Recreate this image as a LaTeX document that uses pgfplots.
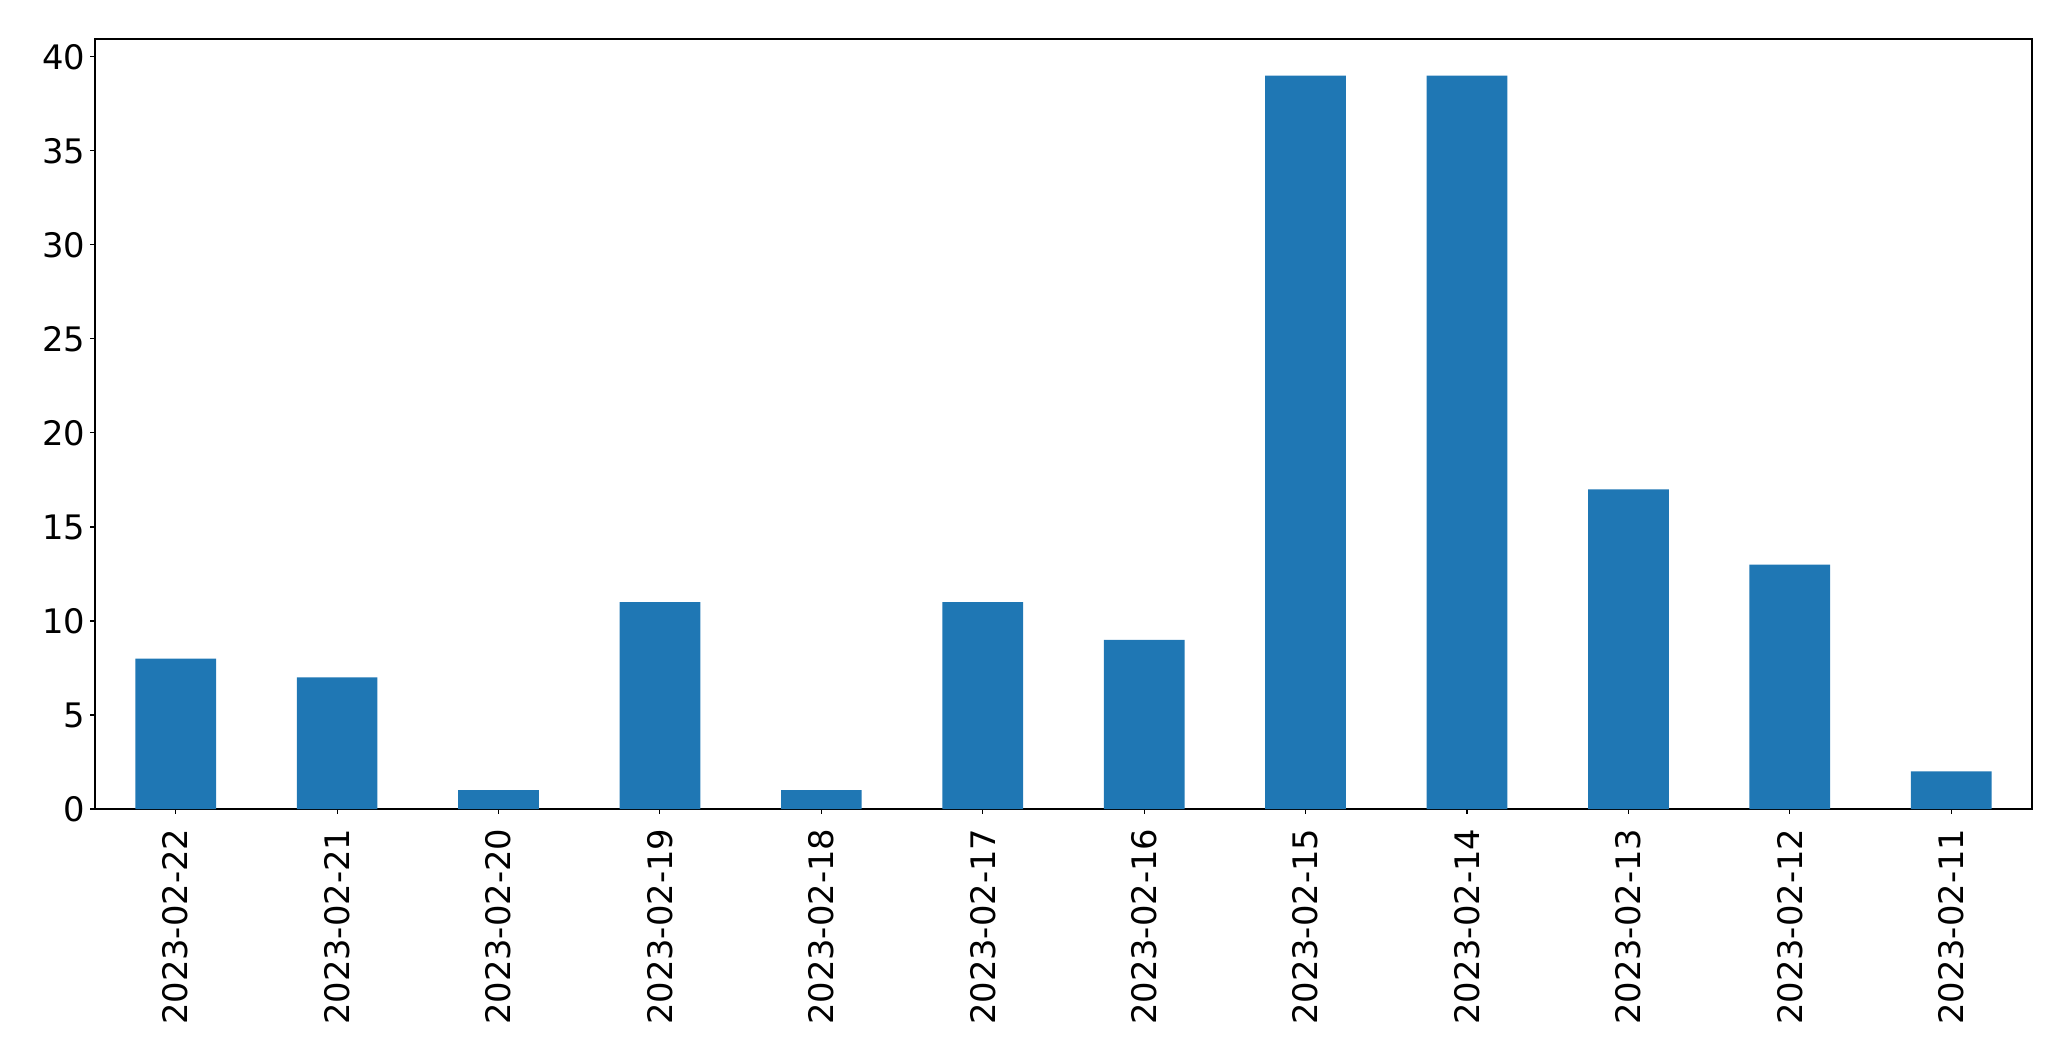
\documentclass[border=0pt]{standalone}
\usepackage{fontspec}
\setmainfont{DejaVu Sans}
\usepackage{pgfplots}
\pgfplotsset{compat=1.18}
\definecolor{mplblue}{HTML}{1F77B4}
\begin{document}
\fontsize{24}{28.8}\selectfont
\begin{tikzpicture}
\useasboundingbox (-68.4pt,-181.44pt) rectangle (1422.72pt,582.48pt);
\begin{axis}[
  at={(0pt,0pt)}, anchor=south west,
  width=1394.6pt, height=554.4pt,
  scale only axis,
  xmin=-0.5, xmax=11.5,
  ymin=0, ymax=40.95,
  xtick={0,...,11},
  xticklabels={2023-02-22,2023-02-21,2023-02-20,2023-02-19,2023-02-18,2023-02-17,2023-02-16,2023-02-15,2023-02-14,2023-02-13,2023-02-12,2023-02-11},
  ytick={0,5,10,15,20,25,30,35,40},
  tick pos=left,
  tick align=outside,
  major tick length=3.5pt,
  every tick/.style={black, line width=0.8pt},
  axis line style={line width=0.8pt},
  /pgf/number format/assume math mode=true,
  ticklabel style={font=\fontsize{24.3}{29}\selectfont},
  yticklabel style={inner sep=0pt, xshift=-3.5pt},
  xticklabel style={rotate=90, anchor=east, inner sep=0pt, yshift=0pt, xshift=-10.5pt},
  ybar,
  bar width=0.5,
]
\addplot[fill=mplblue, draw=none] coordinates {
(0,8) (1,7) (2,1) (3,11) (4,1) (5,11) (6,9) (7,39) (8,39) (9,17) (10,13) (11,2)
};
\end{axis}
\end{tikzpicture}
\end{document}
